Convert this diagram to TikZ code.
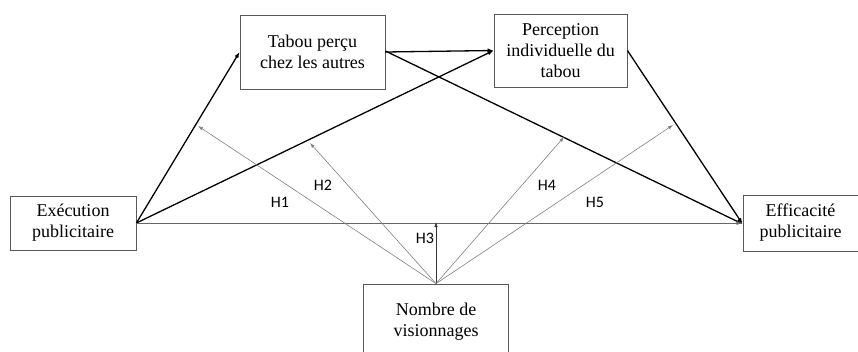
\documentclass[tikz,border=0pt]{standalone}
\usepackage{fontspec}
\setmainfont{Liberation Serif}
\newfontfamily\boxfont{Liberation Serif}
\newfontfamily\hfont{Carlito}
\usetikzlibrary{arrows.meta}
\begin{document}
\begin{tikzpicture}[x=1pt,y=-1pt,
  box/.style={draw=black!65,line width=0.8pt,align=center,inner sep=0pt,
    font=\boxfont\fontsize{18}{21}\selectfont},
  thick arrow/.style={line width=1.3pt,-{Latex[length=6pt,width=4.5pt]}},
  thin arrow/.style={draw=black!50,line width=0.6pt,-{Latex[length=5pt,width=3.5pt]}},
  hlabel/.style={font=\hfont\fontsize{16}{18}\selectfont,inner sep=0pt}]
\useasboundingbox (0,0) rectangle (858,351);
\node[box,minimum width=126pt,minimum height=54pt] (exe) at (73,223) {Exécution\\publicitaire};
\node[box,minimum width=145pt,minimum height=74pt] (tab) at (312.5,52) {Tabou perçu\\chez les autres};
\node[box,minimum width=133pt,minimum height=73pt] (per) at (560.5,50.5) {Perception\\individuelle du\\tabou};
\node[box,minimum width=115pt,minimum height=56pt] (eff) at (800.5,223) {Efficacité\\publicitaire};
\node[box,minimum width=145pt,minimum height=76pt] (nom) at (436,322) {Nombre de\\visionnages};
% main paths
\draw[thick arrow] (exe.east) -- (tab.west);
\draw[thick arrow] (exe.east) -- (per.west);
\draw[thick arrow] (tab.east) -- (per.west);
\draw[thick arrow] ([yshift=1pt]tab.east) -- ([yshift=-1pt]eff.west);
\draw[thick arrow] (per.east) -- ([yshift=-1pt]eff.west);
\draw[draw=black!60,line width=0.7pt,-{Latex[length=6pt,width=4pt]}] (exe.east) -- (eff.west);
% moderator targets
\coordinate (t1) at (198,126);
\coordinate (t2) at (310,143);
\coordinate (t3) at (436,222);
\coordinate (t4) at (564,137);
\coordinate (t5) at (673,125);
\draw[thin arrow] (nom.north) -- (t1);
\draw[thin arrow] (nom.north) -- (t2);
\draw[thin arrow,draw=black!80] (nom.north) -- (t3);
\draw[thin arrow] (nom.north) -- (t4);
\draw[thin arrow] (nom.north) -- (t5);
\node[hlabel] (h1) at (280,202) {H1};
\node[hlabel] (h2) at (323,185) {H2};
\node[hlabel] (h3) at (425,238) {H3};
\node[hlabel] (h4) at (547,185) {H4};
\node[hlabel] (h5) at (595,202) {H5};
\end{tikzpicture}
\end{document}
